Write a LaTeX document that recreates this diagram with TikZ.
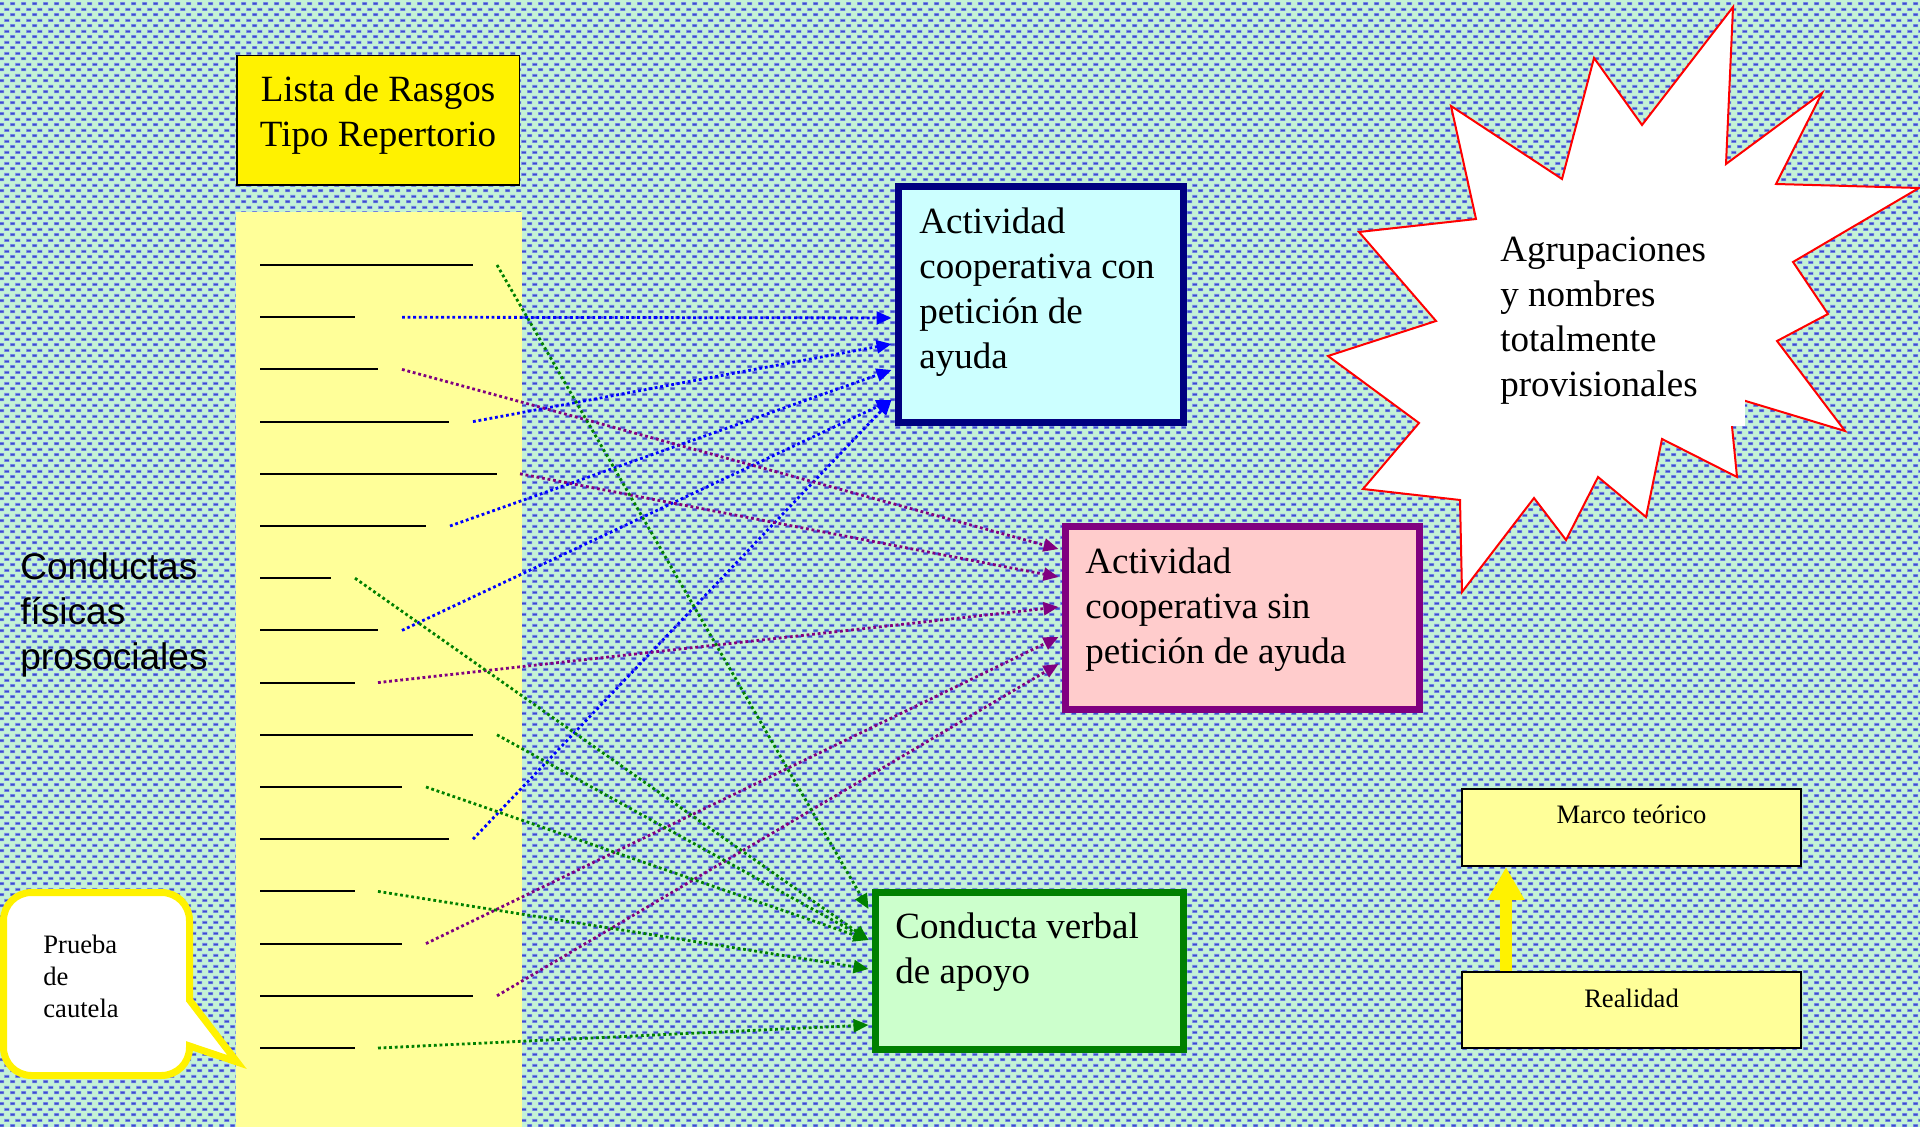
\documentclass[tikz,border=0pt]{standalone}
\usepackage{fontspec}
\setmainfont{Liberation Serif}
\newfontfamily\sansfam{Liberation Sans}
\usetikzlibrary{arrows.meta,calc,patterns}

\definecolor{bgmint}{RGB}{196,242,214}
\definecolor{dashhalo}{RGB}{140,160,232}
\definecolor{dashcore}{RGB}{60,76,208}
\definecolor{colpale}{RGB}{255,255,153}
\definecolor{navy}{RGB}{0,0,128}
\definecolor{cyanfill}{RGB}{204,255,255}
\definecolor{plum}{RGB}{128,0,128}
\definecolor{pinkfill}{RGB}{255,204,204}
\definecolor{leaf}{RGB}{0,128,0}
\definecolor{greenfill}{RGB}{204,255,204}
\definecolor{lnkblue}{RGB}{0,0,255}

% staggered dash texture of the slide background (soft halo + dark core)
\pgfdeclarepatternformonly{bghalo}{\pgfpointorigin}{\pgfpoint{5.6pt}{5.6pt}}{\pgfpoint{5.6pt}{5.6pt}}{%
  \pgfpathrectangle{\pgfpoint{0pt}{0.45pt}}{\pgfpoint{2.8pt}{1.6pt}}%
  \pgfpathrectangle{\pgfpoint{2.8pt}{3.25pt}}{\pgfpoint{2.8pt}{1.6pt}}%
  \pgfusepath{fill}}
\pgfdeclarepatternformonly{bgcore}{\pgfpointorigin}{\pgfpoint{5.6pt}{5.6pt}}{\pgfpoint{5.6pt}{5.6pt}}{%
  \pgfpathrectangle{\pgfpoint{0.35pt}{0.75pt}}{\pgfpoint{2.1pt}{1pt}}%
  \pgfpathrectangle{\pgfpoint{3.15pt}{3.55pt}}{\pgfpoint{2.1pt}{1pt}}%
  \pgfusepath{fill}}

\tikzset{
  bigtext/.style={font=\fontsize{18.5pt}{22.5pt}\selectfont, inner sep=0pt},
  smalltext/.style={font=\fontsize{13.3pt}{16pt}\selectfont, inner sep=0pt},
  catbox/.style={draw, line width=3.5pt, inner sep=0pt},
  plainbox/.style={draw=black, inner sep=0pt},
  rule/.style={line width=1pt, black},
  link/.style={line width=1.4pt, dash pattern=on 1.4pt off 1.4pt,
    -{Triangle[length=7.5pt,width=6.5pt]}},
  callout/.style={draw=yellow, fill=white, line width=3.5pt, line join=miter},
}

\begin{document}
\begin{tikzpicture}[x=0.5pt, y=-0.5pt]
\useasboundingbox (0,0) rectangle (1920,1127);

% background
\fill[bgmint] (0,0) rectangle (1920,1127);
\fill[pattern=bghalo, pattern color=dashhalo] (0,0) rectangle (1920,1127);
\fill[pattern=bgcore, pattern color=dashcore] (0,0) rectangle (1920,1127);

% list column
\fill[colpale] (236,212) rectangle (522,1127);

% list header
\node[plainbox, fill=yellow, line width=0.75pt, minimum width=141.25pt, minimum height=64.75pt] (title) at (378,120.5) {};
\node[bigtext, anchor=north] (titletext) at (378,70)
  {\begin{tabular}{@{}c@{}}Lista de Rasgos\\Tipo Repertorio\end{tabular}};

% blank trait rules and connector start points
\foreach \i/\y/\xe/\xs in {0/265/473/497, 1/317.2/355/402, 2/369.4/378/402, 3/421.6/449/473,
  4/473.8/497/520, 5/526/426/450, 6/578.2/331/355, 7/630.4/378/402, 8/682.6/355/378,
  9/734.8/473/497, 10/787/402/426, 11/839.2/449/473, 12/891.4/355/378, 13/943.6/402/426,
  14/995.8/473/497, 15/1048/355/378}
{
  \draw[rule] (260,\y) -- (\xe,\y);
  \coordinate (s\i) at (\xs,\y);
}

% category boxes
\node[catbox, draw=navy, fill=cyanfill, minimum width=142.5pt, minimum height=118pt] (box1) at (1041,304.5) {};
\node[bigtext, anchor=north west] (box1text) at (919,201.5)
  {\begin{tabular}{@{}l@{}}Actividad\\cooperativa con\\petición de\\ayuda\end{tabular}};

\node[catbox, draw=plum, fill=pinkfill, minimum width=177pt, minimum height=91.5pt] (box2) at (1242.5,618) {};
\node[bigtext, anchor=north west] (box2text) at (1085,541.5)
  {\begin{tabular}{@{}l@{}}Actividad\\cooperativa sin\\petición de ayuda\end{tabular}};

\node[catbox, draw=leaf, fill=greenfill, minimum width=154pt, minimum height=78.5pt] (box3) at (1029.5,971) {};
\node[bigtext, anchor=north west] (box3text) at (895,906.5)
  {\begin{tabular}{@{}l@{}}Conducta verbal\\de apoyo\end{tabular}};

% connectors from traits to categories
\foreach \s/\b/\t/\c in {1/box1/318/lnkblue, 3/box1/344/lnkblue, 5/box1/370/lnkblue,
  7/box1/400/lnkblue, 11/box1/400/lnkblue,
  2/box2/549/plum, 4/box2/577/plum, 8/box2/607/plum, 13/box2/637/plum, 14/box2/664/plum,
  0/box3/909/leaf, 6/box3/940/leaf, 9/box3/940/leaf, 10/box3/940/leaf, 12/box3/969/leaf,
  15/box3/1025/leaf}
{
  \coordinate (tip) at (0,\t);
  \draw[link, color=\c] (s\s) -- ([xshift=-1.75pt]\b.west |- tip);
}

% side label
\node[bigtext, font=\sansfam\fontsize{18.5pt}{22.5pt}\selectfont, anchor=north west] (conductas) at (20,547.5)
  {\begin{tabular}{@{}l@{}}Conductas\\físicas\\prosociales\end{tabular}};

% starburst note
\draw[red, line width=1pt, fill=white, line join=miter]
  (1733,7) -- (1726,164) -- (1822,93) -- (1776,184) -- (1919,188) -- (1793,262)
  -- (1828,314) -- (1777,341) -- (1845,431) -- (1729,396) -- (1737,477) -- (1662,439)
  -- (1646,517) -- (1598,477) -- (1566,540) -- (1534,498) -- (1462,592) -- (1460,500)
  -- (1363,489) -- (1419,423) -- (1328,356) -- (1436,321) -- (1359,232) -- (1476,219)
  -- (1451,106) -- (1562,179) -- (1594,58) -- (1642,125) -- cycle;
\fill[white] (1490,228) rectangle (1745,426);
\node[bigtext, anchor=north west] (startext) at (1500,229.5)
  {\begin{tabular}{@{}l@{}}Agrupaciones\\y nombres\\totalmente\\provisionales\end{tabular}};

% speech bubble
\draw[callout] (31.5,892.5) -- (161.5,892.5) .. controls (177,892.5) and (189.5,905) .. (189.5,920.5)
  -- (189.5,1000) -- (237,1062) -- (189.5,1046) -- (189.5,1047.5)
  .. controls (189.5,1063) and (177,1075.5) .. (161.5,1075.5) -- (31.5,1075.5)
  .. controls (16,1075.5) and (3.5,1063) .. (3.5,1047.5) -- (3.5,920.5)
  .. controls (3.5,905) and (16,892.5) .. (31.5,892.5) -- cycle;
\node[smalltext, anchor=north west] (prueba) at (43,930.6)
  {\begin{tabular}{@{}l@{}}Prueba\\de\\cautela\end{tabular}};

% theory / reality boxes
\node[plainbox, fill=colpale, line width=1pt, minimum width=169.5pt, minimum height=38.5pt] (marco) at (1631.5,827.5) {};
\node[smalltext, anchor=base] (marcotext) at (1631.5,823) {Marco teórico};
\node[plainbox, fill=colpale, line width=1pt, minimum width=169.5pt, minimum height=38pt] (realidad) at (1631.5,1010) {};
\node[smalltext, anchor=base] (realidadtext) at (1631.5,1007) {Realidad};
\coordinate (ax) at (1506,0);
\draw[yellow, line width=6pt, -{Triangle[length=16.5pt,width=17.5pt]}] (realidad.north -| ax) -- (marco.south -| ax);

\end{tikzpicture}
\end{document}
